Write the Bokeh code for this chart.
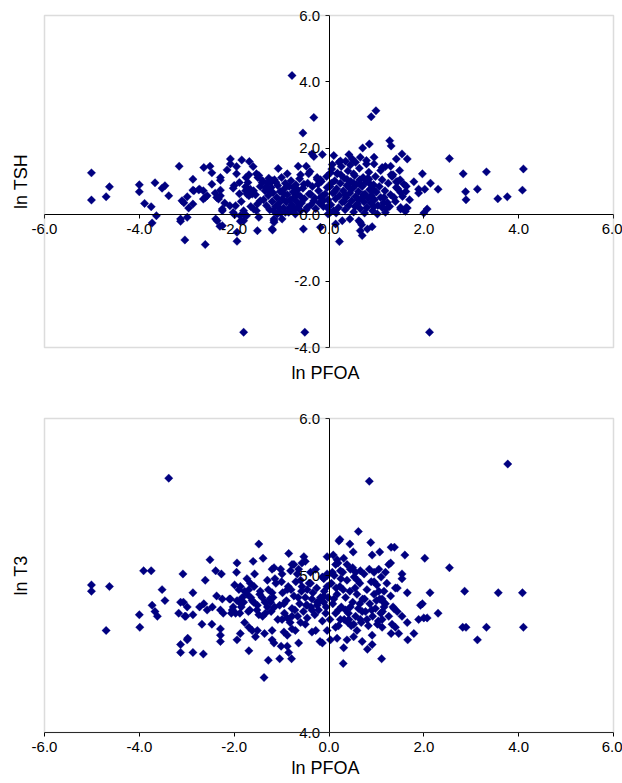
import math
from bokeh.plotting import figure
from bokeh.models import (LinearAxis, FixedTicker, NumeralTickFormatter, Range1d,
                          ColumnDataSource, BoxAnnotation, Label)
from bokeh.layouts import column
from bokeh.embed import file_html
from bokeh.resources import INLINE

# ---------------- data ----------------
x_ticks = [-6, -4, -2, 0, 2, 4, 6]
tsh_ticks = [-4, -2, 0, 2, 4, 6]
t3_ticks = [4, 5, 6]

# Panel 1: ln PFOA vs ln TSH
pfoa_tsh = [
    (-0.78,4.19),(-0.32,2.93),(-0.55,2.46),(-0.32,1.75),(-0.14,1.81),(0.10,1.78),(-5.01,1.26),(-4.63,0.84),
    (-4.70,0.54),(-5.01,0.44),(-4.00,0.90),(-4.00,0.69),(-3.67,0.96),(-3.52,0.80),(-3.46,0.87),(-3.38,0.57),
    (-3.16,1.46),(-2.87,1.07),(-2.87,0.74),(-2.73,0.77),(-2.65,0.72),(-2.64,1.42),(-2.51,1.46),(-2.47,1.26),
    (-2.47,0.92),(-2.29,1.12),(-2.29,1.04),(-2.29,0.74),(-2.08,1.68),(-2.08,1.53),(-2.02,0.80),(-1.95,1.23),
    (-1.89,0.97),(-1.84,1.65),(-1.89,0.63),(-1.68,1.60),(-1.60,1.45),(-1.69,1.20),(-1.71,0.97),(-1.53,1.23),
    (-1.50,1.12),(-1.66,0.77),(-1.40,1.02),(-1.23,0.97),(-1.07,1.39),(-0.88,1.23),(-0.65,1.46),(-0.48,1.46),
    (-0.60,1.20),(-0.40,1.30),(-0.25,1.12),(-0.18,1.05),(0.03,1.26),(0.07,1.51),(0.21,1.58),
    (0.89,2.95),(0.99,3.13),(1.28,2.23),(1.31,2.07),(0.85,2.13),(0.71,2.01),(0.42,1.81),(0.95,1.73),
    (1.54,1.83),(1.65,1.68),(1.42,1.68),(2.54,1.69),(2.83,1.23),(3.32,1.29),(4.10,1.38),(2.88,0.69),
    (3.13,0.77),(4.08,0.74),(3.76,0.54),(3.56,0.48),(2.89,0.45),(1.97,1.23),(2.14,0.95),(2.30,0.77),
    (1.79,0.99),(1.89,0.77),(1.89,0.65),(2.02,0.77),(1.49,1.33),(1.30,1.46),(1.12,1.42),(1.42,0.99),
    (1.58,0.92),(1.63,0.86),
    (2.07,0.17),(2.00,0.05),(2.12,-3.54),(0.22,-0.81),(0.14,-0.28),(0.28,-0.18),(0.44,-0.13),(0.66,-0.23),
    (0.69,-0.30),(0.66,-0.48),(0.70,-0.63),(0.81,-0.43),(0.91,-0.36),(1.02,0.02),(1.19,0.07),(1.51,0.17),
    (1.61,0.10),(1.65,0.20),(-0.02,0.02),(-0.18,-0.38),
    (-3.89,0.34),(-3.75,0.24),(-3.64,-0.03),(-3.73,-0.25),(-3.10,0.42),(-3.06,0.36),(-2.99,0.54),(-2.96,0.20),
    (-3.13,-0.13),(-3.13,-0.20),(-2.99,-0.08),(-3.04,-0.76),(-2.87,0.32),(-2.65,0.47),(-2.61,-0.90),(-2.57,0.57),
    (-2.29,0.57),(-2.37,0.52),(-2.39,-0.13),(-2.36,-0.18),(-2.25,-0.33),(-2.25,0.12),(-2.09,0.27),(-1.99,0.00),
    (-1.78,0.02),(-1.74,-0.03),(-1.87,-0.20),(-1.94,-0.53),(-1.94,-0.80),(-1.80,-3.54),(-1.48,-0.08),(-1.59,0.17),
    (-1.51,-0.48),(-1.69,0.57),(-1.76,0.72),(-1.59,0.72),(-1.45,0.42),(-1.16,-0.18),(-1.19,-0.46),(-1.09,0.02),
    (-0.92,0.07),(-0.85,0.07),(-0.71,0.02),(-0.54,-0.43),(-0.51,-3.54),
    (-1.76,0.84),(-1.73,0.62),(-1.62,0.62),(-1.48,1.18),(-1.41,0.97),(-1.34,0.82),(-1.27,0.72),(-1.20,1.02),
    (-0.43,1.23),(-0.25,1.07),(-0.23,0.92),(-0.36,1.83),(-2.85,0.72),(-2.75,0.75),(-2.61,0.52),(-2.33,0.47),
    (-2.25,0.17),(-2.30,-0.35),(-1.97,0.27),(-2.02,0.07),(-1.87,-0.03),(-1.80,0.12),(-1.80,-0.18),(-1.51,0.32),
    (-1.53,0.12),(-1.16,-0.13),(-1.16,-0.23),(-0.99,-0.13),(-1.20,-0.43),(-0.81,0.12),(-0.60,0.12),(-1.06,0.22),
    (-0.74,0.82),(-0.67,0.62),(-0.53,0.92),(-0.39,0.62),(-0.32,0.42),(-0.46,0.22),(-0.14,0.57),(-0.12,0.42),
    (-0.04,0.82),
    (0.49,1.68),(0.56,1.58),(0.66,1.73),(0.24,1.62),(0.35,1.61),(0.79,1.63),(0.79,1.53),(0.95,1.53),
    (1.19,1.45),(1.09,1.33),(1.31,1.20),(1.33,1.15),(1.45,1.00),(1.42,0.82),(1.51,0.67),(1.37,0.52),
    (1.51,0.22),(1.63,0.22),(1.16,0.52),(1.23,0.37),(1.12,0.22),(-0.18,0.52),(-0.04,0.22),(0.03,0.07),
    (0.63,-0.18),(0.52,1.23),(0.38,1.07),(0.17,1.23),(0.84,1.07),(0.87,0.77),(0.93,0.75),(0.66,0.92),
    (-1.38,0.45),(-1.35,0.72),(-1.32,0.28),(-1.30,0.95),(-1.28,0.58),(-1.25,0.15),(-1.22,0.82),(-1.20,0.40),
    (-1.18,0.66),(-1.15,1.05),(-1.13,0.25),(-1.10,0.52),(-1.08,0.88),(-1.05,0.35),(-1.03,0.70),(-1.00,1.12),
    (-0.98,0.48),(-0.96,0.20),(-0.94,0.78),(-0.92,0.95),(-0.90,0.38),(-0.88,0.60),(-0.86,0.10),(-0.84,0.85),
    (-0.82,0.45),(-0.80,1.02),(-0.78,0.30),(-0.76,0.68),(-0.74,0.52),(-0.72,0.18),(-0.70,0.90),(-0.68,0.40),
    (-0.66,0.75),(-0.64,0.25),(-0.62,1.08),(-0.60,0.55),(-1.12,0.98),(-1.27,1.10),(-0.95,0.62),(-0.83,0.22),
    (-1.17,0.12),(-1.02,0.05),(-0.58,0.35),(-0.55,0.80),(-0.52,0.48),(-0.48,0.15),(-0.45,0.95),(-0.42,0.62),
    (-0.38,0.30),(-0.35,0.85),(-0.30,0.50),(-0.28,0.18),(-0.22,0.72),(-0.20,0.35),(-0.16,1.00),(-0.12,0.25),
    (-0.08,0.62),(-0.05,1.15),(-0.02,0.45),(0.02,0.85),(0.04,0.30),(0.06,1.38),(0.08,0.65),(0.10,0.12),
    (0.12,1.02),(0.14,0.48),(0.16,0.78),(0.18,1.25),(0.20,0.22),(0.22,0.58),(0.24,0.95),(0.26,1.45),
    (0.28,0.38),(0.30,0.72),(0.32,1.10),(0.34,0.15),(0.36,0.52),(0.38,0.88),(0.40,1.32),(0.42,0.28),
    (0.44,0.65),(0.46,1.00),(0.48,0.42),(0.50,0.80),(0.52,0.08),(0.54,1.18),(0.56,0.55),(0.58,0.92),
    (0.60,0.32),(0.62,0.70),(0.64,1.40),(0.66,0.18),(0.68,0.48),(0.70,0.85),(0.72,1.12),(0.74,0.38),
    (0.76,0.62),(0.78,0.98),(0.80,0.22),(0.82,0.50),(0.84,1.28),(0.86,0.75),(0.88,0.35),(0.90,0.58),
    (0.92,0.12),(0.94,0.90),(0.96,0.45),(0.98,1.15),(1.00,0.68),(1.03,0.28),(1.06,0.85),(1.09,0.52),
    (1.12,1.05),(1.15,0.35),(1.18,0.72),(1.21,0.18),(0.05,0.95),(0.15,0.05),(0.35,0.60),(0.45,1.50),
    (0.55,0.25),(0.65,1.05),(0.75,0.05),(0.85,0.95),(0.95,0.25),(0.12,0.70),(0.32,0.40),(0.52,0.95),
    (0.72,0.60),(0.92,0.78),(0.25,1.20),(0.62,0.45),(0.42,0.82),(0.82,1.10),
    (1.25,0.95),(1.30,0.60),(1.35,1.20),(1.40,0.40),(1.45,0.78),(1.50,1.05),(1.55,0.55),(1.62,0.70),
    (1.70,0.45),(1.28,0.25),(-2.20,0.35),(-2.00,0.88),(-1.85,0.40),(-1.75,1.12),(-1.65,0.25),(-1.55,0.60),
    (-1.45,0.85),(-2.40,0.65),(-2.15,1.35),(-1.95,1.45),
]

# Panel 2: ln PFOA vs ln T3
pfoa_t3 = [
    (-3.38,5.62),(-1.48,5.20),(-0.85,5.14),(-0.53,5.12),(-0.50,5.09),(-0.04,5.12),(0.09,5.13),(0.21,5.22),
    (0.19,5.08),(-1.39,5.11),(-1.60,5.09),(-1.94,5.08),(-2.51,5.10),(-3.91,5.03),(-3.75,5.03),(-3.08,5.01),
    (-5.01,4.94),(-5.01,4.90),(-4.63,4.93),(-3.52,4.91),(-2.87,4.89),(-2.61,4.97),(-2.39,5.03),(-2.27,5.01),
    (-1.95,5.02),(-1.99,4.94),(-1.87,4.93),(-1.73,4.98),(-1.66,4.95),(-1.69,4.91),(-1.57,5.01),(-1.30,4.97),
    (-1.16,5.05),(-1.02,5.04),(-1.14,4.98),(-0.78,5.07),(-0.67,5.01),(-0.60,4.97),(-0.39,5.02),(-0.28,5.04),
    (-0.04,5.00),(0.07,5.02),(-0.88,4.91),(-1.45,4.90),(-1.20,4.89),
    (0.85,5.60),(3.77,5.71),(0.62,5.28),(0.23,5.23),(0.88,5.21),(0.44,5.20),(0.51,5.15),(1.07,5.15),
    (0.91,5.13),(1.31,5.18),(1.38,5.18),(1.60,5.13),(2.02,5.11),(2.54,5.05),(1.30,5.08),(1.54,5.01),
    (1.54,4.98),(1.65,4.89),(2.13,4.89),(2.86,4.90),(3.57,4.89),(4.08,4.89),(1.44,4.92),(-0.14,4.99),
    (0.17,5.10),(0.31,5.11),(0.38,5.07),(0.14,5.07),(0.24,5.03),(0.45,5.04),(0.56,5.02),(0.66,5.03),
    (0.95,5.02),(1.05,5.04),(1.19,5.02),(1.26,5.07),(1.93,4.81),(1.97,4.82),(1.89,4.72),(2.00,4.73),
    (2.07,4.73),(2.30,4.76),(1.79,4.63),(1.66,4.59),(1.31,4.63),(1.47,4.63),(1.65,4.70),(1.54,4.74),
    (1.44,4.77),(1.37,4.79),(1.33,4.69),(1.40,4.67),(1.12,4.85),(1.16,4.80),(1.09,4.76),(1.12,4.72),
    (1.02,4.69),(1.12,4.67),(0.91,4.62),(0.91,4.56),(0.81,4.53),(0.70,4.58),(1.11,4.47),(0.30,4.44),
    (0.31,4.54),(0.38,4.59),(0.52,4.61),(0.59,4.65),(0.17,4.60),(0.03,4.59),(-0.14,4.57),(-0.04,4.65),
    (0.14,4.67),(0.24,4.72),(0.42,4.72),(0.52,4.69),(0.66,4.72),
    (2.82,4.67),(2.89,4.67),(3.32,4.67),(4.10,4.67),(3.13,4.59),
    (-4.70,4.65),(-4.00,4.75),(-3.99,4.67),(-3.73,4.81),(-3.67,4.77),(-3.62,4.74),(-3.46,4.84),(-3.17,4.76),
    (-3.04,4.74),(-2.87,4.75),(-2.99,4.80),(-3.07,4.83),(-3.13,4.56),(-3.13,4.51),(-2.99,4.59),(-2.87,4.51),
    (-2.65,4.50),(-2.68,4.69),(-2.47,4.69),(-2.73,4.80),(-2.64,4.82),(-2.57,4.78),(-2.46,4.80),(-2.37,4.87),
    (-2.25,4.85),(-2.29,4.78),(-2.23,4.76),(-2.29,4.66),(-2.29,4.62),(-2.29,4.58),(-2.10,4.85),(-2.02,4.80),
    (-2.06,4.76),(-1.97,4.76),(-1.89,4.83),(-1.88,4.76),(-1.94,4.59),(-1.87,4.63),(-1.78,4.70),(-1.69,4.67),
    (-1.62,4.65),(-1.69,4.52),(-1.55,4.61),(-1.51,4.65),(-1.67,4.78),(-1.80,4.83),(-1.59,4.83),(-1.48,4.75),
    (-1.37,4.35),(-1.28,4.46),(-1.36,4.63),(-1.20,4.65),(-1.20,4.59),(-1.16,4.57),(-1.04,4.47),(-1.01,4.55),
    (-0.88,4.55),(-0.85,4.51),(-0.79,4.47),(-0.95,4.64),(-0.88,4.62),(-0.78,4.66),(-0.71,4.65),(-0.64,4.57),
    (-0.99,4.72),(-0.78,4.74),(-0.60,4.70),(-0.50,4.69),(-0.36,4.64),(-0.28,4.65),(-0.19,4.58),(-0.46,4.81),
    (-0.36,4.78),(-0.25,4.81),(-0.11,4.83),(-0.07,4.76),
    (-1.20,5.04),(-0.99,5.01),(-0.81,5.03),(-0.74,5.07),(-0.64,5.04),(-0.57,5.08),(-3.13,4.83),(-3.02,4.74),
    (-2.08,4.85),(-1.94,4.84),(-2.04,4.78),(-2.98,4.60),(-1.90,4.91),(-1.83,4.86),(-1.73,4.88),(-1.62,4.84),
    (-1.51,4.81),(-1.41,4.86),(-1.30,4.80),(-1.23,4.83),(-1.34,4.76),(-0.36,4.85),(-0.25,4.83),(-0.18,4.86),
    (-0.11,4.87),(-0.04,4.93),(-0.39,4.95),(-0.46,4.91),(-0.57,4.93),(-0.04,5.01),(-0.11,4.98),
    (-1.85,4.80),(-1.78,4.90),(-1.70,4.77),(-1.65,4.86),(-1.58,4.93),(-1.52,4.78),(-1.46,4.88),(-1.40,4.74),
    (-1.35,4.83),(-1.28,4.91),(-1.22,4.77),(-1.18,4.86),(-1.12,4.95),(-1.08,4.72),(-1.04,4.81),(-0.98,4.89),
    (-0.94,4.76),(-0.90,4.84),(-0.86,4.93),(-0.82,4.70),(-0.78,4.79),(-0.74,4.87),(-0.70,4.96),(-0.66,4.74),
    (-0.62,4.82),(-0.58,4.90),(-0.54,4.77),(-0.50,4.86),(-0.46,4.73),(-0.42,4.95),(-0.38,4.80),(-0.34,4.89),
    (-0.30,4.75),(-0.26,4.92),(-0.22,4.78),(-0.18,4.84),(-0.14,4.71),(-0.10,4.90),(-0.06,4.80),(-0.02,4.86),
    (-1.15,4.80),(-0.95,4.82),(-0.80,4.91),(-0.65,4.86),(-1.00,4.96),(-0.88,4.73),(-1.25,4.85),(-0.72,4.78),
    (-0.48,4.81),
    (0.02,4.72),(0.05,4.95),(0.08,4.82),(0.11,5.00),(0.14,4.76),(0.17,4.88),(0.20,4.68),(0.23,4.93),
    (0.26,4.80),(0.29,5.02),(0.32,4.72),(0.35,4.86),(0.38,4.97),(0.41,4.76),(0.44,4.90),(0.47,4.68),
    (0.50,4.83),(0.53,4.99),(0.56,4.74),(0.59,4.88),(0.62,4.79),(0.65,4.95),(0.68,4.70),(0.71,4.85),
    (0.74,5.01),(0.77,4.77),(0.80,4.91),(0.83,4.68),(0.86,4.82),(0.89,4.96),(0.92,4.74),(0.95,4.88),
    (0.98,4.79),(1.01,4.94),(1.04,4.71),(1.07,4.85),(1.10,4.99),(1.13,4.77),(1.16,4.90),(1.19,4.82),
    (1.22,4.95),(1.26,4.74),(1.30,4.87),(1.35,4.80),(1.40,4.92),(0.10,4.85),(0.30,4.91),(0.45,4.80),
    (0.60,4.97),(0.75,4.85),(0.90,4.78),(1.05,4.90),(0.20,4.78),(0.40,4.70),(0.55,4.92),(0.70,4.77),
    (0.85,5.04),(1.00,4.84),(0.25,4.98),(0.65,4.82),(0.15,4.92),(0.35,4.78),(0.50,5.05),(0.80,4.72),
    (0.95,4.96),(1.15,4.83),
]

ln_pfoa_1 = [p[0] for p in pfoa_tsh]
ln_tsh = [p[1] for p in pfoa_tsh]
ln_pfoa_2 = [p[0] for p in pfoa_t3]
ln_t3 = [p[1] for p in pfoa_t3]

# ---------------- styling / layout ----------------
FONT = "Liberation Sans"
NAVY = "#000080"
TICK_FS = "15px"
TITLE_FS = "18px"
W = 622
BOX_L, BOX_R = 44, 613          # pixel columns of the plot box (both panels)


def tick_axis(ticks, fixed, bounds):
    ax = LinearAxis(ticker=FixedTicker(ticks=ticks, minor_ticks=[]),
                    formatter=NumeralTickFormatter(format="0.0"),
                    fixed_location=fixed, bounds=bounds)
    ax.axis_line_color = "black"
    ax.axis_line_width = 1
    ax.major_tick_line_color = "black"
    ax.major_tick_out = 4
    ax.major_tick_in = 0
    ax.minor_tick_line_color = None
    ax.major_label_text_font = FONT
    ax.major_label_text_font_size = TICK_FS
    ax.major_label_text_color = "black"
    ax.major_label_standoff = 5
    return ax


def panel(yticks, height, box_top, box_bot, xtitle, ytitle, xtitle_px, ytitle_px,
          xaxis_at, xs, ys):
    x0, x1 = x_ticks[0], x_ticks[-1]
    y0, y1 = yticks[0], yticks[-1]
    kx = (BOX_R - BOX_L) / (x1 - x0)
    ky = (box_bot - box_top) / (y1 - y0)
    xr = Range1d(x0 - BOX_L / kx, x1 + (W - BOX_R) / kx)
    yr = Range1d(y0 - (height - box_bot) / ky, y1 + box_top / ky)
    p = figure(width=W, height=height, x_range=xr, y_range=yr,
               x_axis_location=None, y_axis_location=None, toolbar_location=None,
               output_backend="svg", min_border=0)
    p.grid.visible = False
    p.outline_line_color = None
    p.background_fill_color = "white"
    p.border_fill_color = "white"

    p.add_layout(BoxAnnotation(left=x0, right=x1, bottom=y0, top=y1,
                               fill_color=None, fill_alpha=0,
                               line_color="#8c8c8c", line_width=1.5))
    p.add_layout(tick_axis(x_ticks, xaxis_at, (x0, x1)), "below")
    p.add_layout(tick_axis(yticks, 0, (y0, y1)), "left")

    src = ColumnDataSource(dict(x=xs, y=ys))
    p.scatter("x", "y", source=src, marker="square", size=6, angle=math.pi / 4,
              fill_color=NAVY, line_color=NAVY, line_width=0.3)

    # axis titles, positioned in pixels then converted to data units
    tx = x0 + (325 - BOX_L) / kx
    ty = y1 - (xtitle_px - box_top) / ky
    p.add_layout(Label(x=tx, y=ty, text=xtitle, text_font=FONT, text_font_size=TITLE_FS,
                       text_align="center", text_baseline="middle", text_color="black"))
    lx = x0 - (BOX_L - 20) / kx
    ly = y1 - (ytitle_px - box_top) / ky
    p.add_layout(Label(x=lx, y=ly, text=ytitle, text_font=FONT, text_font_size=TITLE_FS,
                       text_align="center", text_baseline="middle", angle=math.pi / 2,
                       text_color="black"))
    return p


p1 = panel(tsh_ticks, 400, 15, 347, "ln PFOA", "ln TSH", 372, 181, 0, ln_pfoa_1, ln_tsh)
p2 = panel(t3_ticks, 382, 18, 332, "ln PFOA", "ln T3", 367, 175, t3_ticks[0], ln_pfoa_2, ln_t3)

layout = column(p1, p2, spacing=0)
open("out.html", "w").write(file_html(layout, INLINE))
